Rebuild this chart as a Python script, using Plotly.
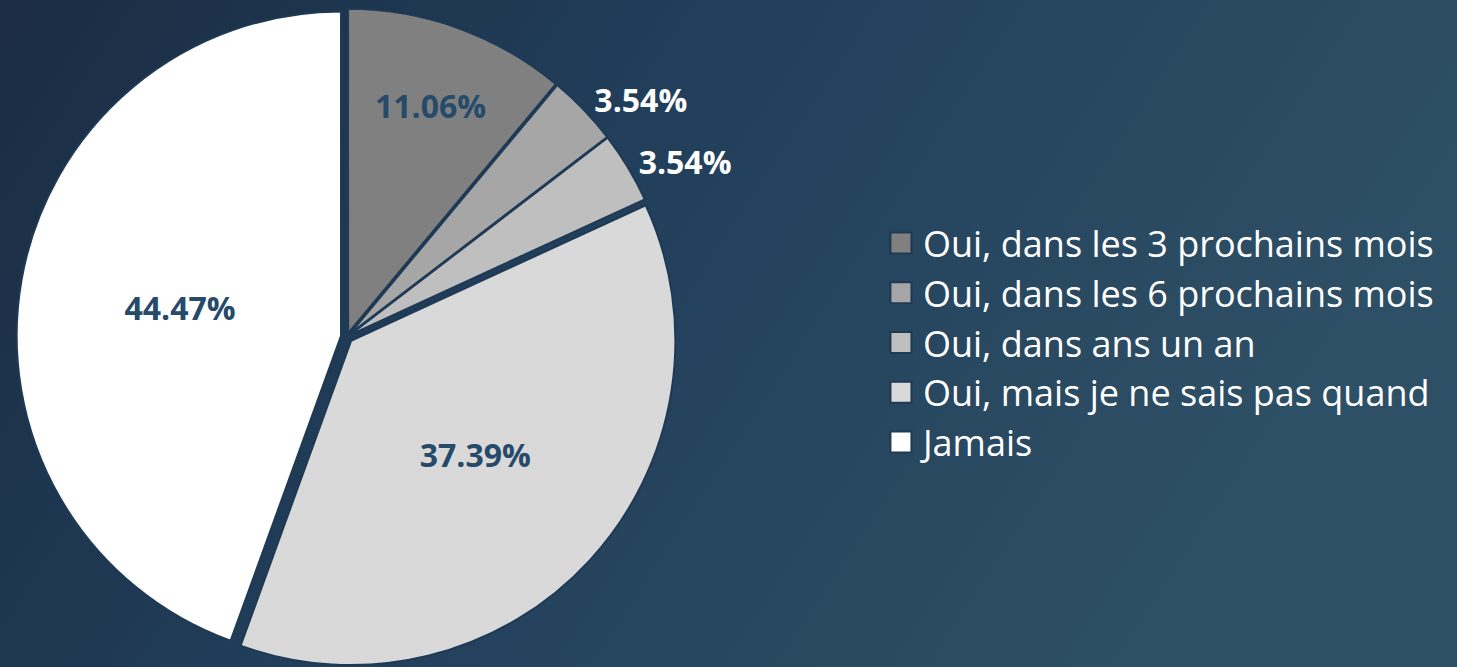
import base64
import plotly.graph_objects as go

categories = ["Oui, dans les 3 prochains mois", "Oui, dans les 6 prochains mois",
              "Oui, dans ans un an", "Oui, mais je ne sais pas quand", "Jamais"]
values = [11.06, 3.54, 3.54, 37.39, 44.47]
labels_text = ["11.06%", "3.54%", "3.54%", "37.39%", "44.47%"]

slice_colors = ["#808080", "#a6a6a6", "#bfbfbf", "#d9d9d9", "#ffffff"]
text_colors = ["#264a6a", "#ffffff", "#ffffff", "#264a6a", "#264a6a"]
text_pos = ["inside", "outside", "outside", "inside", "inside"]
pulls = [0.012, 0.012, 0.012, 0.018, 0.018]

FONT = "Open Sans, Noto Sans, sans-serif"

fig = go.Figure()
fig.add_trace(go.Pie(
    labels=categories, values=values, text=labels_text, textinfo="text",
    sort=False, direction="clockwise", rotation=0,
    marker=dict(colors=slice_colors, line=dict(color="#1f3a55", width=2)),
    textposition=text_pos, insidetextorientation="horizontal",
    textfont=dict(family=FONT, size=32, color=text_colors, weight="bold"),
    pull=pulls, hoverinfo="label+percent", automargin=False,
    domain=dict(x=[0.011, 0.465], y=[0.0, 0.99]),
))

# background: gradient image (dark navy on the left -> lighter grey-blue on the right)
svg_bg = (
    '<svg xmlns="http://www.w3.org/2000/svg" width="1457" height="667" preserveAspectRatio="none">'
    '<defs><linearGradient id="g" x1="0" y1="0" x2="1" y2="0.3">'
    '<stop offset="0" stop-color="#1b2c43"/>'
    '<stop offset="0.45" stop-color="#213e5a"/>'
    '<stop offset="1" stop-color="#2e5066"/>'
    '</linearGradient></defs>'
    '<rect width="1457" height="667" fill="url(#g)"/></svg>'
)
bg_src = "data:image/svg+xml;base64," + base64.b64encode(svg_bg.encode()).decode()

fig.update_layout(
    width=1457, height=667,
    margin=dict(l=0, r=0, t=0, b=0, pad=0, autoexpand=False),
    paper_bgcolor="#213c58", plot_bgcolor="rgba(0,0,0,0)",
    images=[dict(source=bg_src, xref="paper", yref="paper", x=0, y=1, sizex=1, sizey=1,
                 xanchor="left", yanchor="top", sizing="stretch", layer="below")],
    showlegend=True,
    legend=dict(x=0.606, y=0.4865, xanchor="left", yanchor="middle",
                font=dict(family=FONT, size=36, color="#ffffff"),
                bgcolor="rgba(0,0,0,0)", tracegroupgap=0),
)

post = """
document.documentElement.style.background = '#213c58';
document.body.style.background = '#213c58';
document.body.style.margin = '0';
document.body.style.overflow = 'hidden';
document.querySelectorAll('path.legendpie').forEach(function(p){
  p.setAttribute('d', 'M8.5,10.5H-12.5V-10.5H8.5Z');
});
"""

fig.write_html("out.html", post_script=post,
               config={"responsive": False, "displayModeBar": False},
               default_width="1457px", default_height="667px")
